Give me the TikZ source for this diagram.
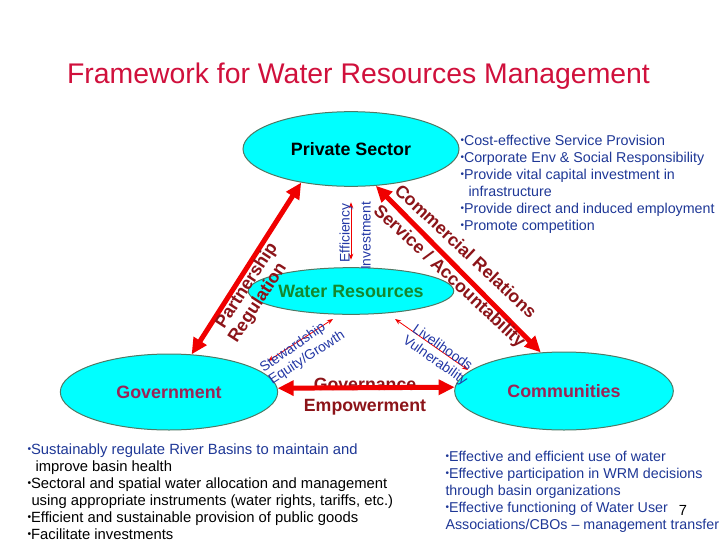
\documentclass[tikz,border=0pt]{standalone}
\usepackage{fontspec}
\setmainfont{Liberation Sans}
\usepackage{graphicx}
\usetikzlibrary{arrows.meta,shapes.geometric}

\definecolor{titlered}{RGB}{208,16,60}
\definecolor{labelred}{RGB}{140,20,25}
\definecolor{arrowred}{RGB}{240,0,0}
\definecolor{sectortext}{RGB}{155,35,85}
\definecolor{watergreen}{RGB}{20,135,45}
\definecolor{labelblue}{RGB}{35,55,165}
\definecolor{listblue}{RGB}{30,55,150}
\definecolor{ellipsefill}{RGB}{0,255,255}
\definecolor{ellipseline}{RGB}{80,120,100}

\newcommand{\bul}{\raisebox{0.25ex}{\scalebox{0.7}{•}}}

\tikzset{every picture/.style={line width=0.75pt}}
\tikzset{
  sector/.style={ellipse, draw=ellipseline, fill=ellipsefill, inner sep=0pt,
    font=\fontsize{13.4}{16}\selectfont\bfseries},
  bigarrow/.style={draw=arrowred, line width=3.75pt,
    {Triangle[length=12pt,width=11pt]}-{Triangle[length=12pt,width=11pt]}},
  thinarrow/.style={draw=arrowred, line width=0.6pt,
    {Stealth[length=4.5pt,width=3.5pt]}-{Stealth[length=4.5pt,width=3.5pt]}},
  biglabel/.style={text=labelred, inner sep=0pt, font=\fontsize{13.3}{15}\selectfont\bfseries},
  smalllabel/.style={text=labelblue, inner sep=0pt, font=\fontsize{10.4}{12}\selectfont},
  bulletlist/.style={align=left, inner sep=0pt, anchor=north west,
    font=\fontsize{10.7}{12.75}\selectfont}
}

\begin{document}
\begin{tikzpicture}[x=0.75pt,y=0.75pt,yscale=-1,xscale=1]
\useasboundingbox (0,0) rectangle (728,546);

% Title
\node [anchor=base, inner sep=0pt, text=titlered, font=\fontsize{21.3}{24}\selectfont] (title) at (358.5,83.5) {Framework for Water Resources Management};

%Shape: Ellipse [id:private]
\node [sector, minimum width=162pt, minimum height=56pt] (private) at (351,149) {Private Sector};
%Shape: Ellipse [id:water]
\node [sector, minimum width=128pt, minimum height=35pt, text=watergreen] (water) at (351,291) {Water Resources};
%Shape: Ellipse [id:gov]
\node [sector, minimum width=163pt, minimum height=57pt, text=sectortext] (gov) at (169,392) {Government};
%Shape: Ellipse [id:comm]
\node [sector, minimum width=164pt, minimum height=58.5pt, text=sectortext] (comm) at (564,391) {Communities};

% Text Node
\node [biglabel, anchor=base] (governance) at (365,390) {Governance};
\node [biglabel, anchor=base] (empower) at (365,411) {Empowerment};

%Straight Lines [id:partnership]
\draw [bigarrow] (gov.59) -- (private.214);
%Straight Lines [id:commercial]
\draw [bigarrow] (private.304) -- (comm.121);
%Straight Lines [id:governance]
\draw [bigarrow] (gov.2) -- (comm.178);

% Text Node
\node [biglabel, rotate=57] (partner) at (247,286) {Partnership};
\node [biglabel, rotate=57] (regul) at (258,303) {Regulation};
\node [biglabel, rotate=-43] (commrel) at (466,251) {Commercial Relations};
\node [biglabel, rotate=-43] (service) at (449,277) {Service / Accountability};

%Straight Lines [id:efficiency]
\draw [thinarrow, shorten <=11.6pt, shorten >=5.6pt] (private.south) -- (water.north);
\node [smalllabel, rotate=90] (effic) at (346,233) {Efficiency};
\node [smalllabel, rotate=90] (invest) at (366,236) {Investment};

%Straight Lines [id:stewardship]
\coordinate (stwA) at (268,361);
\coordinate (stwB) at (333,319);
\draw [thinarrow] (stwA) -- (stwB);
\node [smalllabel, rotate=35] (steward) at (293,348) {Stewardship};
\node [smalllabel, rotate=33] (equity) at (307,358) {Equity/Growth};

%Straight Lines [id:livelihoods]
\coordinate (lvA) at (395,319);
\coordinate (lvB) at (468,370);
\draw [thinarrow] (lvA) -- (lvB);
\node [smalllabel, rotate=-35] (liveli) at (443,347) {Livelihoods};
\node [smalllabel, rotate=-35] (vulner) at (435,361) {Vulnerability};

% Text Node
\node [bulletlist, text=listblue] (pslist) at (460,135) {\bul Cost-effective Service Provision\\
  \bul Corporate Env \& Social Responsibility\\
  \bul Provide vital capital investment in\\
  \hspace{6pt}infrastructure\\
  \bul Provide direct and induced employment\\
  \bul Promote competition};

% Text Node
\node [bulletlist, font=\fontsize{11.1}{12.75}\selectfont] (govlist) at (27,443) {\textcolor{listblue}{\bul Sustainably regulate River Basins to maintain and}\\
  \hspace{6pt}improve basin health\\
  \bul Sectoral and spatial water allocation and management\\
  \hspace{3pt}using appropriate instruments (water rights, tariffs, etc.)\\
  \bul Efficient and sustainable provision of public goods\\
  \bul Facilitate investments};

% Text Node
\node [bulletlist, text=listblue] (commlist) at (445,451) {\bul Effective and efficient use of water\\
  \bul Effective participation in WRM decisions\\
  through basin organizations\\
  \bul Effective functioning of Water User\\
  Associations/CBOs -- management transfer};

% Text Node
\node [inner sep=0pt, font=\fontsize{11}{13}\selectfont] (pagenum) at (683,510) {7};

\end{tikzpicture}
\end{document}
